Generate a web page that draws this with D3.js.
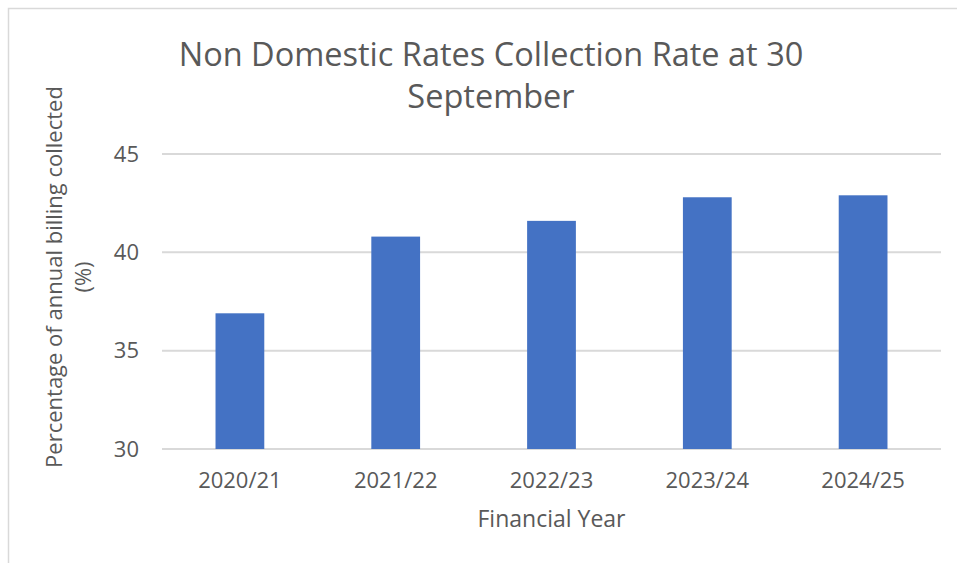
<!DOCTYPE html>
<html>
<head>
<meta charset="utf-8">
<script src="https://cdn.jsdelivr.net/npm/d3@7"></script>
<style>
  body { margin: 0; background: #fff; }
  text { font-family: "Open Sans", sans-serif; fill: #595959; }
</style>
</head>
<body>
<svg id="drawing_region"></svg>
<script>
// data
const years = ["2020/21", "2021/22", "2022/23", "2023/24", "2024/25"];
const rates = [36.9, 40.8, 41.6, 42.8, 42.9];
const yTicks = [30, 35, 40, 45];

const width = 957, height = 563;
const margin = {top: 154, right: 16, bottom: 114, left: 162};
const inner_width = width - margin.left - margin.right;
const inner_height = height - margin.top - margin.bottom;

const svg = d3.select("#drawing_region")
    .attr("width", width)
    .attr("height", height);

svg.append("rect")
    .attr("width", width).attr("height", height)
    .attr("fill", "#fff");

// chart border (only top and left visible in the crop)
svg.append("rect")
    .attr("x", 8.5).attr("y", 8.5)
    .attr("width", width + 20).attr("height", height + 20)
    .attr("fill", "none")
    .attr("stroke", "#d9d9d9")
    .attr("stroke-width", 1.5);

const chart = svg.append("g")
    .attr("transform", `translate(${margin.left}, ${margin.top})`);

const xscale = d3.scaleBand()
    .domain(years)
    .range([0, inner_width])
    .paddingInner(0.687)
    .paddingOuter(0.687 / 2);

const yscale = d3.scaleLinear()
    .domain([30, 45])
    .range([inner_height, 0]);

// gridlines
chart.append("g")
    .selectAll("line")
    .data(yTicks)
    .join("line")
    .attr("x1", 0).attr("x2", inner_width)
    .attr("y1", d => yscale(d)).attr("y2", d => yscale(d))
    .attr("stroke", "#d9d9d9")
    .attr("stroke-width", 2);

// bars
chart.selectAll("rect.bar")
    .data(rates)
    .join("rect")
    .attr("class", "bar")
    .attr("x", (d, i) => xscale(years[i]))
    .attr("y", d => yscale(d))
    .attr("width", xscale.bandwidth())
    .attr("height", d => inner_height - yscale(d))
    .attr("fill", "#4472c4");

// y axis
const yaxis = d3.axisLeft(yscale)
    .tickValues(yTicks)
    .tickSize(0)
    .tickPadding(23);

chart.append("g")
    .call(yaxis)
    .call(g => g.select(".domain").remove())
    .selectAll("text")
    .style("font-size", "22px")
    .attr("fill", "#595959");

// x axis
const xaxis = d3.axisBottom(xscale)
    .tickSize(0)
    .tickPadding(23);

chart.append("g")
    .attr("transform", `translate(0, ${inner_height})`)
    .call(xaxis)
    .call(g => g.select(".domain").remove())
    .selectAll("text")
    .style("font-size", "22px")
    .attr("fill", "#595959");

// title
const title = svg.append("text")
    .attr("text-anchor", "middle")
    .style("font-size", "32.5px");
title.append("tspan").attr("x", 491).attr("y", 66)
    .text("Non Domestic Rates Collection Rate at 30");
title.append("tspan").attr("x", 491).attr("y", 108)
    .text("September");

// x label
svg.append("text")
    .attr("text-anchor", "middle")
    .attr("x", margin.left + inner_width / 2)
    .attr("y", 527)
    .style("font-size", "23px")
    .text("Financial Year");

// y label
const ylabel = svg.append("text")
    .attr("text-anchor", "middle")
    .attr("transform", "rotate(-90)")
    .style("font-size", "22px");
ylabel.append("tspan").attr("x", -277).attr("y", 62)
    .text("Percentage of annual billing collected");
ylabel.append("tspan").attr("x", -277).attr("y", 91)
    .text("(%)");
</script>
</body>
</html>
